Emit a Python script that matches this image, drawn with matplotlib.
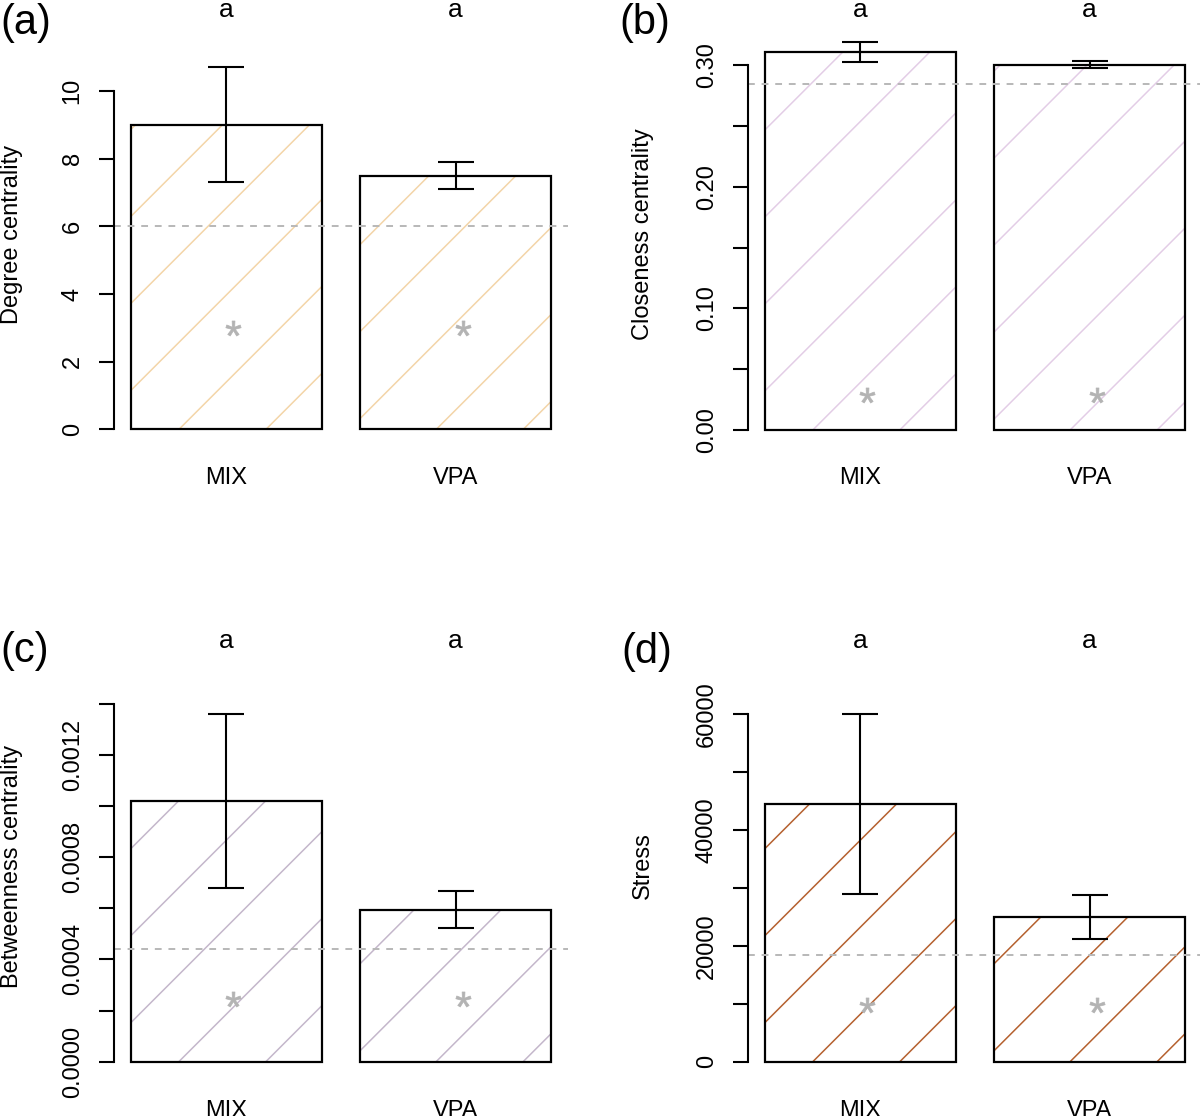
import matplotlib
matplotlib.use("Agg")
import matplotlib.pyplot as plt
import numpy as np
from matplotlib.lines import Line2D
from matplotlib.path import Path
from matplotlib.textpath import TextPath
from matplotlib.font_manager import FontProperties
from matplotlib.transforms import IdentityTransform, blended_transform_factory, ScaledTranslation

plt.rcParams['font.family'] = ['Liberation Sans', 'DejaVu Sans']

# ---------------- data ----------------
groups = ["MIX", "VPA"]
group_letters = ["a", "a"]
panel_tags = ["(a)", "(b)", "(c)", "(d)"]
ylabels = ["Degree centrality", "Closeness centrality", "Betweenness centrality", "Stress"]

degree_mean = [9.0, 7.5]
degree_err = [1.7, 0.4]
degree_ref = 6.0
degree_star = 3.0

closeness_mean = [0.311, 0.3005]
closeness_err = [0.008, 0.0027]
closeness_ref = 0.2843
closeness_star = 0.029

betweenness_mean = [0.00102, 0.000594]
betweenness_err = [0.00034, 0.000073]
betweenness_ref = 0.00044
betweenness_star = 0.000245

stress_mean = [44500, 25000]
stress_err = [15500, 3850]
stress_ref = 18400
stress_star = 9800

degree_ticks = [0, 2, 4, 6, 8, 10]
degree_ticklabels = ["0", "2", "4", "6", "8", "10"]
closeness_ticks = [0, 0.05, 0.10, 0.15, 0.20, 0.25, 0.30]
closeness_ticklabels = ["0.00", "", "0.10", "", "0.20", "", "0.30"]
betweenness_ticks = [0, 0.0002, 0.0004, 0.0006, 0.0008, 0.0010, 0.0012, 0.0014]
betweenness_ticklabels = ["0.0000", "", "0.0004", "", "0.0008", "", "0.0012", ""]
stress_ticks = [0, 10000, 20000, 30000, 40000, 50000, 60000]
stress_ticklabels = ["0", "", "20000", "", "40000", "", "60000"]

hatch_colors = ["#f3d5a8", "#e3cde6", "#c4b7cb", "#b5612f"]

# ---------------- layout (pixels) ----------------
W, H = 1200, 1116
fig = plt.figure(figsize=(W / 100, H / 100), dpi=100)

# left, top, right, bottom, zero_px, maxtick_px
layouts = [
    (114, 22, 568, 446, 429.5, 91.0),
    (748, 22, 1202, 446, 430.0, 65.3),
    (114, 654, 568, 1078, 1061.7, 703.7),
    (748, 654, 1202, 1078, 1061.7, 714.0),
]
ylabel_pos = [(12, 234), (643, 234), (12, 866), (643, 866)]
tag_pos = [(0, 34), (619, 34), (0, 662), (621, 663)]
xlab_base = [484, 484, 1117, 1117]
letter_base = [17, 17, 648, 648]

panels = [
    (degree_mean, degree_err, degree_ref, degree_star, degree_ticks, degree_ticklabels),
    (closeness_mean, closeness_err, closeness_ref, closeness_star, closeness_ticks, closeness_ticklabels),
    (betweenness_mean, betweenness_err, betweenness_ref, betweenness_star, betweenness_ticks, betweenness_ticklabels),
    (stress_mean, stress_err, stress_ref, stress_star, stress_ticks, stress_ticklabels),
]

# asterisk marker from the Arial-like glyph
tp = TextPath((0, 0), "*", prop=FontProperties(family="Liberation Sans"))
v = tp.vertices.copy()
codes = tp.codes
real = codes != Path.CLOSEPOLY
cx = (v[real, 0].min() + v[real, 0].max()) / 2
cy = (v[real, 1].min() + v[real, 1].max()) / 2
v[:, 0] -= cx
v[:, 1] -= cy
v[~real] = 0.0
star_path = Path(v, codes)

bar_width = 1.0
bar_space = 0.2
x_pos = np.arange(len(groups)) * (bar_width + bar_space) + bar_space + bar_width / 2
hatch_phase = [48, 76]
hatch_spacing = 87


def add_hatch(ax, bars, color):
    for patch, phase in zip(bars, hatch_phase):
        bb = patch.get_window_extent()
        x0, y0, x1, y1 = bb.x0, bb.y0, bb.x1, bb.y1
        h = y1 - y0
        start = x0 + phase
        kmin = int(np.floor((x0 - h - start) / hatch_spacing)) - 1
        kmax = int(np.ceil((x1 - start) / hatch_spacing)) + 1
        for k in range(kmin, kmax + 1):
            xb = start + k * hatch_spacing
            ln = Line2D([xb, xb + h], [y0, y0 + h], transform=IdentityTransform(),
                        color=color, lw=1.1, zorder=1.5)
            ax.add_artist(ln)
            ln.set_clip_path(patch)


for i, (mean, err, ref, star, ticks, ticklabels) in enumerate(panels):
    L, T, R, B, z, mt = layouts[i]
    ax = fig.add_axes([L / W, 1 - B / H, (R - L) / W, (B - T) / H])
    ax.patch.set_visible(False)
    ymax = ticks[-1]
    s = (z - mt) / ymax
    ax.set_ylim((z - B) / s, (z - T) / s)
    ax.set_xlim(0.112, 2.488)

    bars = ax.bar(x_pos, mean, width=bar_width, color="white", edgecolor="none", zorder=1)
    add_hatch(ax, bars, hatch_colors[i])
    ax.bar(x_pos, mean, width=bar_width, fill=False, edgecolor="black", lw=1.6, zorder=2)
    ax.axhline(ref, color="#b8b8b8", lw=1.4, dashes=(3.5, 3.5), zorder=2.5)
    ax.errorbar(x_pos, mean, yerr=err, fmt="none", ecolor="black", elinewidth=1.5,
                capsize=13.3, capthick=1.5, zorder=3)
    off = ax.transData + ScaledTranslation(0.07, 0, fig.dpi_scale_trans)
    ax.plot(x_pos, [star] * len(x_pos), linestyle="none", marker=star_path, ms=11,
            color="#b3b3b3", mec="#b3b3b3", mew=0.5, transform=off, zorder=3)

    for sp in ["top", "right", "bottom"]:
        ax.spines[sp].set_visible(False)
    ax.spines["left"].set_bounds(0, ymax)
    ax.spines["left"].set_linewidth(1.5)
    ax.set_yticks(ticks)
    ax.set_yticklabels(ticklabels)
    ax.tick_params(axis="y", length=10.8, width=1.5, labelsize=17, pad=11, labelrotation=90)
    for lab in ax.get_yticklabels():
        lab.set_va("center")
    ax.set_xticks([])

    tr = blended_transform_factory(ax.transData, IdentityTransform())
    for xc, g, let in zip(x_pos, groups, group_letters):
        ax.text(xc, H - xlab_base[i], g, transform=tr, ha="center", va="baseline", fontsize=17)
        ax.text(xc, H - letter_base[i], let, transform=tr, ha="center", va="baseline", fontsize=19)

    fig.text(ylabel_pos[i][0] / W, 1 - ylabel_pos[i][1] / H, ylabels[i], rotation=90,
             ha="center", va="center", fontsize=17)
    fig.text(tag_pos[i][0] / W, 1 - tag_pos[i][1] / H, panel_tags[i], ha="left",
             va="baseline", fontsize=30)

fig.savefig("out.png", dpi=100, facecolor="white")
